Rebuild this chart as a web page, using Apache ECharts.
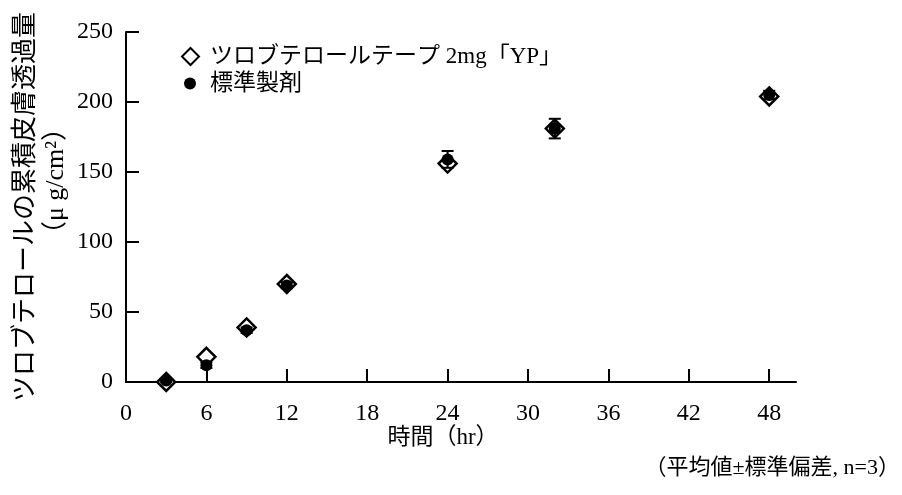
<!DOCTYPE html>
<html>
<head>
<meta charset="utf-8">
<script src="https://cdn.jsdelivr.net/npm/echarts@6/dist/echarts.min.js"></script>
<style>html,body{margin:0;padding:0;background:#fff;}#c{width:902px;height:495px;}</style>
</head>
<body>
<div id="c"></div>
<script>
// ---- data ----
const timeHr = [3, 6, 9, 12, 24, 32, 48];
const ypName = 'ツロブテロールテープ 2mg「YP」';
const refName = '標準製剤';
const ypValues = [0, 18, 39, 70, 156, 181, 204];
const refValues = [1, 12, 37, 69, 159, 181, 205];
const refSD = [1, 2, 2, 2, 6, 7, 3];
const xTicks = [0, 6, 12, 18, 24, 30, 36, 42, 48];
const yTicks = [0, 50, 100, 150, 200, 250];
const xTitle = '時間（hr）';
const yTitle1 = 'ツロブテロールの累積皮膚透過量';
const yTitle2 = '（μ g/cm²）';
const footNote = '（平均値±標準偏差, n=3）';

const SERIF = "'Liberation Serif', 'Noto Sans CJK JP', serif";
const chart = echarts.init(document.getElementById('c'));
const ypData = timeHr.map((t, i) => [t, ypValues[i]]);
const refData = timeHr.map((t, i) => [t, refValues[i]]);
const errData = timeHr.map((t, i) => [t, refValues[i] - refSD[i], refValues[i] + refSD[i]]);

chart.setOption({
  animation: false,
  backgroundColor: '#fff',
  grid: { left: 126, right: 106, top: 32, bottom: 113, containLabel: false },
  xAxis: {
    type: 'value', min: 0, max: 50,
    splitLine: { show: false },
    axisLine: { lineStyle: { color: '#000', width: 2 } },
    axisTick: { inside: true, length: 13, lineStyle: { color: '#000', width: 2 }, customValues: xTicks },
    axisLabel: { color: '#000', fontFamily: SERIF, fontSize: 24, margin: 20, customValues: xTicks }
  },
  yAxis: {
    type: 'value', min: 0, max: 250, interval: 50,
    splitLine: { show: false },
    axisLine: { show: true, lineStyle: { color: '#000', width: 2 } },
    axisTick: { show: true, inside: true, length: 13, lineStyle: { color: '#000', width: 2 }, customValues: yTicks },
    axisLabel: { color: '#000', fontFamily: SERIF, fontSize: 24, margin: 13, customValues: yTicks }
  },
  legend: [
    {
      data: [{ name: ypName, icon: 'diamond' }],
      left: 176, top: 40, itemWidth: 17, itemHeight: 17,
      textStyle: { fontFamily: SERIF, fontSize: 23, color: '#000', padding: [0, 0, 0, 6] }
    },
    {
      data: [{ name: refName, icon: 'circle' }],
      left: 179, top: 67, itemWidth: 12, itemHeight: 12,
      textStyle: { fontFamily: SERIF, fontSize: 23, color: '#000', padding: [0, 0, 0, 9] }
    }
  ],
  series: [
    {
      name: ypName, type: 'scatter', data: ypData, symbol: 'diamond', symbolSize: 18, z: 2,
      itemStyle: { color: '#fff', borderColor: '#000', borderWidth: 2.5, opacity: 1 }
    },
    {
      name: 'err', type: 'custom', data: errData, z: 3,
      renderItem: function (params, api) {
        const x = api.value(0);
        const lo = api.coord([x, api.value(1)]);
        const hi = api.coord([x, api.value(2)]);
        const w = 6;
        const st = { stroke: '#000', lineWidth: 2 };
        return { type: 'group', children: [
          { type: 'line', shape: { x1: lo[0], y1: lo[1], x2: hi[0], y2: hi[1] }, style: st },
          { type: 'line', shape: { x1: lo[0] - w, y1: lo[1], x2: lo[0] + w, y2: lo[1] }, style: st },
          { type: 'line', shape: { x1: hi[0] - w, y1: hi[1], x2: hi[0] + w, y2: hi[1] }, style: st }
        ]};
      }
    },
    {
      name: refName, type: 'scatter', data: refData, symbol: 'circle', symbolSize: 12, z: 4,
      itemStyle: { color: '#000', opacity: 1 }
    }
  ],
  graphic: [
    { type: 'text', x: 23, y: 207, rotation: Math.PI / 2,
      style: { text: yTitle1, font: "26px 'Noto Sans CJK JP'", fill: '#000', align: 'center', verticalAlign: 'middle' } },
    { type: 'text', x: 56, y: 181, rotation: Math.PI / 2,
      style: { text: yTitle2, font: "26px " + SERIF, fill: '#000', align: 'center', verticalAlign: 'middle' } },
    { type: 'text', x: 443, y: 438,
      style: { text: xTitle, font: "23px " + SERIF, fill: '#000', align: 'center', verticalAlign: 'middle' } },
    { type: 'text', x: 900, y: 468,
      style: { text: footNote, font: "22px " + SERIF, fill: '#000', align: 'right', verticalAlign: 'middle' } }
  ]
});
</script>
</body>
</html>
